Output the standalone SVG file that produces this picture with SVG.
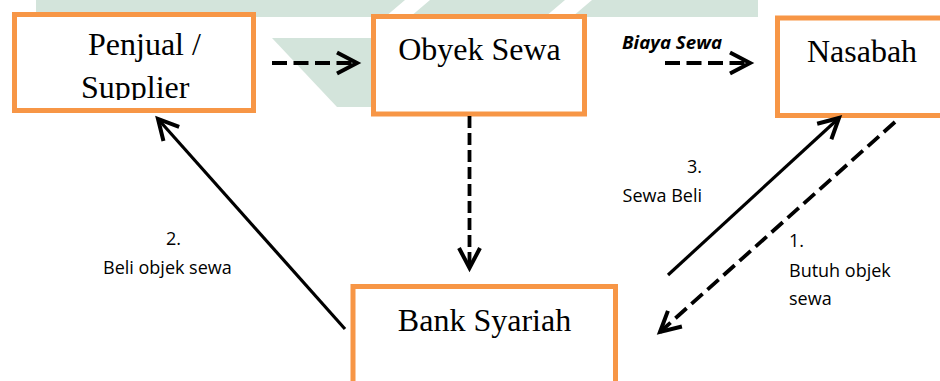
<svg xmlns="http://www.w3.org/2000/svg" width="940" height="381" viewBox="0 0 940 381">
  <style>
    .wm { fill: #d3e4db; }
    .box { fill: #ffffff; stroke: #f79646; stroke-width: 5; }
    .big { font-family: "Liberation Serif", "Times New Roman", serif; font-size: 32px; fill: #000; }
    .lbl { font-family: "Open Sans", "Liberation Sans", sans-serif; font-size: 18px; fill: #000; }
    .bi { font-family: "Open Sans", "Liberation Sans", sans-serif; font-size: 17px; font-weight: bold; font-style: italic; fill: #000; }
    .solid { fill: none; stroke: #000; stroke-width: 3.2; }
    .dash { fill: none; stroke: #000; stroke-width: 3.8; stroke-dasharray: 15 6.5; }
    .vdash { fill: none; stroke: #000; stroke-width: 3.8; stroke-dasharray: 12 5; }
  </style>
  <defs>
    <marker id="head" markerUnits="userSpaceOnUse" markerWidth="40" markerHeight="40" viewBox="-30 -20 40 40" refX="0" refY="0" orient="auto" overflow="visible">
      <path d="M-20,-10.5 L0,0 L-20,10.5" fill="none" stroke="#000" stroke-width="4" stroke-dasharray="none" stroke-linejoin="miter"/>
    </marker>
    <clipPath id="clipSup">
      <rect x="0" y="0" width="300" height="100"/>
    </clipPath>
  </defs>

  <g id="watermark">
    <polygon class="wm" points="36,0 405,0 385,17 36,17"/>
    <polygon class="wm" points="430,0 565,0 545,17 410,17"/>
    <polygon class="wm" points="592,0 758,0 758,17 572,17"/>
    <polygon class="wm" points="272,38 380,38 380,107 337,107"/>
  </g>

  <g id="penjual">
    <rect class="box" x="14.5" y="14.5" width="239" height="96"/>
    <text class="big" x="88" y="55" font-size="31">Penjual /</text>
    <text class="big" x="81" y="98" font-size="31" clip-path="url(#clipSup)">Supplier</text>
  </g>

  <g id="obyek">
    <rect class="box" x="373.5" y="16.5" width="211" height="97.5"/>
    <text class="big" x="479.5" y="60" text-anchor="middle">Obyek Sewa</text>
  </g>

  <g id="nasabah">
    <rect class="box" x="777.5" y="18" width="175" height="97.5"/>
    <text class="big" x="862" y="62" text-anchor="middle">Nasabah</text>
  </g>

  <g id="bank">
    <rect class="box" x="353" y="286.5" width="262.5" height="120"/>
    <text class="big" x="484.5" y="331" text-anchor="middle">Bank Syariah</text>
  </g>

  <g id="connectors">
    <line class="dash" x1="272" y1="63" x2="357" y2="63" marker-end="url(#head)"/>
    <line class="dash" x1="665" y1="63" x2="750" y2="63" marker-end="url(#head)"/>
    <line class="vdash" x1="469.5" y1="116" x2="469.5" y2="268" marker-end="url(#head)"/>
    <line class="solid" x1="345" y1="329" x2="158" y2="119" marker-end="url(#head)"/>
    <line class="solid" x1="668" y1="275" x2="839" y2="118" marker-end="url(#head)"/>
    <line class="dash" x1="895" y1="122" x2="660" y2="332" marker-end="url(#head)"/>
  </g>

  <g id="labels">
    <text class="bi" x="622" y="49" textLength="100" lengthAdjust="spacingAndGlyphs">Biaya Sewa</text>
    <text class="lbl" x="166" y="245">2.</text>
    <text class="lbl" x="103" y="274">Beli objek sewa</text>
    <text class="lbl" x="702" y="173" text-anchor="end">3.</text>
    <text class="lbl" x="702" y="202" text-anchor="end">Sewa Beli</text>
    <text class="lbl" x="789" y="247">1.</text>
    <text class="lbl" x="789" y="277">Butuh objek</text>
    <text class="lbl" x="789" y="305">sewa</text>
  </g>
</svg>
